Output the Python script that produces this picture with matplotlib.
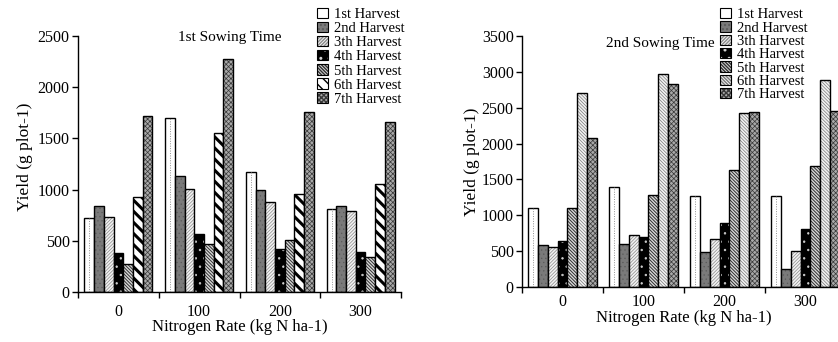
import matplotlib
matplotlib.use("Agg")
import matplotlib.pyplot as plt
import matplotlib.patches as mpatches
import numpy as np

plt.rcParams['font.family'] = ['Liberation Serif', 'DejaVu Serif']

# data
rates = ['0', '100', '200', '300']
harvests = ['1st Harvest', '2nd Harvest', '3th Harvest', '4th Harvest',
            '5th Harvest', '6th Harvest', '7th Harvest']

# 1st sowing time, one list per harvest (values for N = 0, 100, 200, 300)
sow1 = [
    [720, 1695, 1175, 810],
    [835, 1135, 1000, 835],
    [735, 1010, 880, 795],
    [380, 570, 420, 395],
    [270, 465, 505, 340],
    [930, 1555, 960, 1050],
    [1720, 2280, 1760, 1665],
]
# 2nd sowing time
sow2 = [
    [1095, 1400, 1265, 1265],
    [580, 600, 485, 250],
    [560, 720, 665, 500],
    [640, 700, 890, 815],
    [1095, 1285, 1630, 1690],
    [2700, 2975, 2425, 2890],
    [2075, 2830, 2445, 2460],
]

# (facecolor, hatch colour, hatch, hatch linewidth) per harvest
styles1 = [
    ('white', 'white', None, 0.5),
    ('#7a7a7a', '#5a5a5a', '....', 0.4),
    ('#f2f2f2', '#8a8a8a', '//////////', 0.5),
    ('black', '#d0d0d0', '..', 0.5),
    ('#d8d8d8', '#303030', '\\\\\\\\\\\\\\\\\\\\', 0.7),
    ('white', 'black', '\\\\\\', 2.2),
    ('#a8a8a8', '#383838', 'xxxxxxx', 0.5),
]
styles2 = [
    ('white', 'white', None, 0.5),
    ('#7a7a7a', '#5a5a5a', '....', 0.4),
    ('#f2f2f2', '#8a8a8a', '//////////', 0.5),
    ('black', '#d0d0d0', '..', 0.5),
    ('#d8d8d8', '#303030', '\\\\\\\\\\\\\\\\\\\\', 0.7),
    ('#f2f2f2', '#7a7a7a', '\\\\\\\\\\\\\\\\\\\\', 0.5),
    ('#a8a8a8', '#383838', 'xxxxxxx', 0.5),
]

W, H = 838, 342
fig = plt.figure(figsize=(W / 100, H / 100), dpi=100)


def px(x0, y0, x1, y1):
    # pixel box -> figure fraction rect
    return [x0 / W, 1 - y1 / H, (x1 - x0) / W, (y1 - y0) / H]


def draw(ax, data, styles, ymax, tickpad):
    x = np.arange(len(rates)) + 0.5
    w = 0.12
    for k, vals in enumerate(data):
        fc, hc, hatch, hlw = styles[k]
        pos = x + (k - 3) * w
        with plt.rc_context({'hatch.linewidth': hlw}):
            b = ax.bar(pos, vals, w, color=fc, edgecolor=hc, hatch=hatch, lw=0)
            if hasattr(b.patches[0], 'set_hatch_linewidth'):
                for p in b.patches:
                    p.set_hatch_linewidth(hlw)
        ax.bar(pos, vals, w, fill=False, edgecolor='black', lw=1.0)
        if k == 0:
            ax.vlines(pos, 0, vals, colors='#909090', lw=0.7, linestyles=(0, (1, 1.5)))
    ax.set_xlim(0, len(rates))
    ax.set_ylim(0, ymax)
    ax.set_xticks(np.arange(len(rates) + 1))
    ax.set_xticklabels([])
    ax.set_xticks(x, minor=True)
    ax.set_xticklabels(rates, minor=True)
    ax.tick_params(axis='x', which='minor', length=0, labelsize=11.5, pad=tickpad)
    ax.tick_params(axis='x', which='major', length=4, width=1)
    ax.tick_params(axis='y', length=4, width=1, labelsize=11.5, pad=2)
    ax.set_yticks(np.arange(0, ymax + 1, 500))
    for s in ['top', 'right']:
        ax.spines[s].set_visible(False)
    ax.spines['left'].set_linewidth(1)
    ax.spines['bottom'].set_linewidth(1)


def legend(styles, anchor, spacing):
    handles = []
    for fc, hc, hatch, hlw in styles:
        with plt.rc_context({'hatch.linewidth': min(hlw, 1.2)}):
            f = mpatches.Patch(facecolor=fc, edgecolor=hc, hatch=hatch, lw=0)
        o = mpatches.Patch(fill=False, edgecolor='black', lw=0.8)
        handles.append((f, o))
    fig.legend(handles, harvests, loc='upper left', bbox_to_anchor=anchor,
               frameon=False, fontsize=10.5, borderpad=0, borderaxespad=0,
               handlelength=0.75, handleheight=0.7, handletextpad=0.4,
               labelspacing=spacing)


ax1 = fig.add_axes(px(78, 36, 401, 292))
draw(ax1, sow1, styles1, 2500, 9)
ax1.set_ylabel('Yield (g plot-1)', fontsize=12.5)
ax1.yaxis.set_label_coords(-0.14, 0.53)
ax1.set_xlabel('Nitrogen Rate (kg N ha-1)', fontsize=12, labelpad=-1)
fig.text(230 / W, 1 - 37 / H, '1st Sowing Time', fontsize=11, ha='center', va='center')
legend(styles1, (317 / W, 1 - 8 / H), 0.06)

ax2 = fig.add_axes(px(522, 36, 846, 287))
draw(ax2, sow2, styles2, 3500, 5)
ax2.set_ylabel('Yield (g plot-1)', fontsize=12.5, labelpad=1)
ax2.set_xlabel('Nitrogen Rate (kg N ha-1)', fontsize=12, labelpad=0)
fig.text(660 / W, 1 - 44 / H, '2nd Sowing Time', fontsize=11, ha='center', va='center')
legend(styles2, (720 / W, 1 - 8 / H), 0.01)

fig.savefig('out.png', dpi=100)
